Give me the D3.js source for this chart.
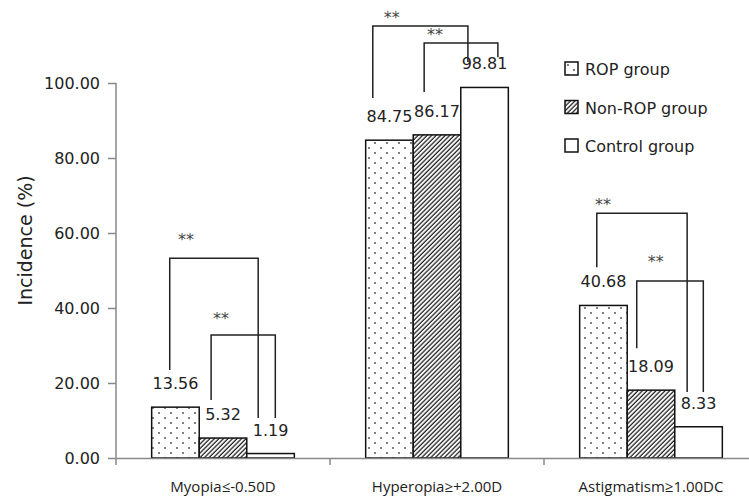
<!DOCTYPE html>
<html>
<head>
<meta charset="utf-8">
<script src="https://cdn.jsdelivr.net/npm/d3@7"></script>
<style>
  html, body { margin: 0; padding: 0; background: #fff; }
  svg { display: block; }
</style>
</head>
<body>
<svg id="chart" width="749" height="497"></svg>
<script>
// ---- data ----
const categories = ["Myopia≤-0.50D", "Hyperopia≥+2.00D", "Astigmatism≥1.00DC"];
const seriesNames = ["ROP group", "Non-ROP group", "Control group"];
const ropValues = [13.56, 84.75, 40.68];
const nonRopValues = [5.32, 86.17, 18.09];
const controlValues = [1.19, 98.81, 8.33];
const yTickValues = [0, 20, 40, 60, 80, 100];
// significance brackets: category index, left/right (in bar slots), top and leg ends (value units), star position
const bracketCats = [0, 0, 1, 1, 2, 2];
const bracketLeft = [0.38, 1.25, 0.15, 1.23, 0.36, 1.2];
const bracketRight = [2.24, 2.6, 2.15, 2.78, 2.26, 2.6];
const bracketTop = [53.3, 32.8, 115.2, 110.7, 65.3, 47.2];
const bracketLeftEnd = [23.5, 15.5, 96, 97.6, 50.9, 29.3];
const bracketRightEnd = [10.7, 10.7, 105.6, 106.9, 17.6, 17.6];
const starX = [0.72, 1.46, 0.55, 1.46, 0.49, 1.6];
const starY = [58.7, 37.6, 117.9, 113.3, 68, 52.8];
const starText = ["**", "**", "**", "**", "**", "**"];

const valuesBySeries = [ropValues, nonRopValues, controlValues];

const svg = d3.select("#chart");
const plotLeft = 116, plotRight = 758, plotTop = 83, plotBottom = 458;

const x0 = d3.scaleBand().domain(categories).range([plotLeft, plotRight]).padding(0);
const x1 = d3.scaleBand().domain(seriesNames).range([0, x0.bandwidth()]).paddingInner(0).paddingOuter(0.75);
const y = d3.scaleLinear().domain([0, 100]).range([plotBottom, plotTop]);

// patterns
const defs = svg.append("defs");
const dots = defs.append("pattern").attr("id", "dots").attr("patternUnits", "userSpaceOnUse")
  .attr("width", 12).attr("height", 10);
dots.append("rect").attr("width", 12).attr("height", 10).attr("fill", "#fff");
dots.append("circle").attr("cx", 3).attr("cy", 3).attr("r", 0.9).attr("fill", "#444");
dots.append("circle").attr("cx", 9).attr("cy", 8).attr("r", 0.9).attr("fill", "#444");

const hatch = defs.append("pattern").attr("id", "hatch").attr("patternUnits", "userSpaceOnUse")
  .attr("width", 3.2).attr("height", 10).attr("patternTransform", "rotate(45)");
hatch.append("rect").attr("width", 3.2).attr("height", 10).attr("fill", "#fff");
hatch.append("line").attr("x1", 1).attr("x2", 1).attr("y1", 0).attr("y2", 10)
  .attr("stroke", "#222").attr("stroke-width", 1.3);

const fills = ["url(#dots)", "url(#hatch)", "#fff"];

// bars
const rows = [];
categories.forEach((c, ci) => seriesNames.forEach((s, si) => rows.push({ c, s, si, v: valuesBySeries[si][ci] })));

svg.append("g").selectAll("rect").data(rows).join("rect")
  .attr("x", d => x0(d.c) + x1(d.s))
  .attr("y", d => y(d.v))
  .attr("width", x1.bandwidth())
  .attr("height", d => y(0) - y(d.v))
  .attr("fill", d => fills[d.si])
  .attr("stroke", "#111")
  .attr("stroke-width", 1.5);

// value labels
svg.append("g").selectAll("text").data(rows).join("text")
  .attr("x", d => x0(d.c) + x1(d.s) + x1.bandwidth() / 2)
  .attr("y", d => y(d.v) - 18)
  .attr("text-anchor", "middle")
  .attr("font-family", "DejaVu Sans")
  .attr("font-size", 16)
  .attr("fill", "#222")
  .text(d => d.v.toFixed(2));

// y axis
const yAxis = svg.append("g").attr("transform", `translate(${plotLeft},0)`)
  .call(d3.axisLeft(y).tickValues(yTickValues).tickSize(8).tickPadding(8).tickFormat(d3.format(".2f")));
yAxis.select(".domain").attr("stroke", "#888").attr("stroke-width", 1.5).attr("d", `M0,${y(100)}V${plotBottom + 7}`);
yAxis.selectAll(".tick line").attr("stroke", "#888").attr("stroke-width", 1.5);
yAxis.selectAll(".tick text").attr("font-family", "DejaVu Sans").attr("font-size", 16).attr("fill", "#222");

// x axis
const xAxis = svg.append("g").attr("transform", `translate(0,${plotBottom})`)
  .call(d3.axisBottom(x0).tickSize(0).tickPadding(23));
xAxis.select(".domain").attr("stroke", "#888").attr("stroke-width", 1.5);
xAxis.selectAll(".tick text").attr("font-family", "Open Sans").attr("font-size", 15).attr("fill", "#222");
// category separators
svg.append("g").selectAll("line").data(categories.slice(1)).join("line")
  .attr("x1", d => x0(d)).attr("x2", d => x0(d))
  .attr("y1", plotBottom).attr("y2", plotBottom + 7)
  .attr("stroke", "#888").attr("stroke-width", 1.5);

// y title
svg.append("text")
  .attr("transform", `translate(32,${(plotTop + plotBottom) / 2 - 30}) rotate(-90)`)
  .attr("text-anchor", "middle")
  .attr("font-family", "DejaVu Sans")
  .attr("font-size", 19)
  .attr("fill", "#222")
  .text("Incidence (%)");

// brackets
const slotX = (ci, u) => x0(categories[ci]) + x1(seriesNames[0]) + u * x1.step();
const bg = svg.append("g");
bracketCats.forEach((ci, i) => {
  const xl = slotX(ci, bracketLeft[i]), xr = slotX(ci, bracketRight[i]);
  bg.append("path")
    .attr("d", `M${xl},${y(bracketLeftEnd[i])}V${y(bracketTop[i])}H${xr}V${y(bracketRightEnd[i])}`)
    .attr("fill", "none").attr("stroke", "#222").attr("stroke-width", 1.5);
  bg.append("text")
    .attr("x", slotX(ci, starX[i]))
    .attr("y", y(starY[i]) + 7)
    .attr("text-anchor", "middle")
    .attr("font-family", "DejaVu Sans")
    .attr("font-size", 16)
    .attr("fill", "#444")
    .text(starText[i]);
});

// legend
const legend = svg.append("g").attr("transform", "translate(565,62)");
seriesNames.forEach((s, i) => {
  const g = legend.append("g").attr("transform", `translate(0,${i * 38.5})`);
  g.append("rect").attr("width", 13).attr("height", 13)
    .attr("fill", fills[i]).attr("stroke", "#111").attr("stroke-width", 1.5);
  g.append("text").attr("x", 20).attr("y", 13)
    .attr("font-family", "DejaVu Sans").attr("font-size", 16).attr("fill", "#222")
    .text(s);
});
</script>
</body>
</html>
